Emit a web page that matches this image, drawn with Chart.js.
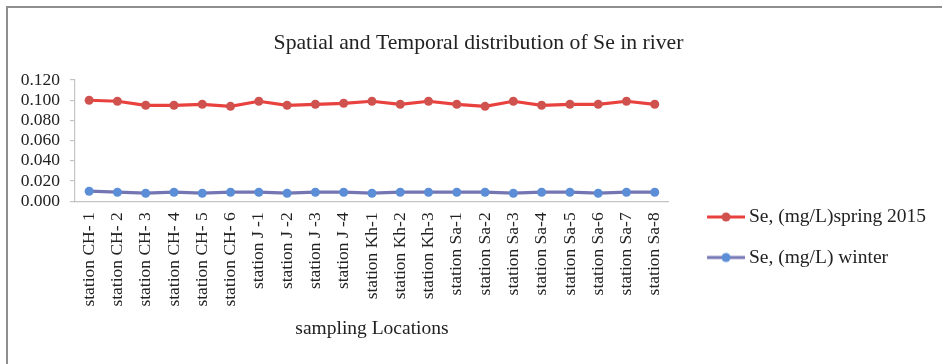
<!DOCTYPE html>
<html>
<head>
<meta charset="utf-8">
<script src="https://cdn.jsdelivr.net/npm/chart.js@4/dist/chart.umd.min.js"></script>
<style>
  html, body { margin: 0; padding: 0; background: #ffffff; }
  #wrap { position: relative; width: 942px; height: 364px; overflow: hidden; }
  #frame { position: absolute; left: 6px; top: 6px; right: -4px; bottom: -4px;
           border-top: 2px solid #8e8e8e; border-left: 2px solid #8e8e8e; pointer-events: none; }
  canvas { position: absolute; left: 0; top: 0; }
</style>
</head>
<body>
<div id="wrap">
  <canvas id="chart" width="942" height="364"></canvas>
  <div id="frame"></div>
</div>
<script>
// Sampling stations along the river
const stations = [
  'station CH- 1', 'station CH- 2', 'station CH- 3', 'station CH- 4', 'station CH- 5', 'station CH- 6',
  'station J -1', 'station J -2', 'station J -3', 'station J -4',
  'station Kh-1', 'station Kh-2', 'station Kh-3',
  'station Sa-1', 'station Sa-2', 'station Sa-3', 'station Sa-4', 'station Sa-5', 'station Sa-6', 'station Sa-7', 'station Sa-8'
];

// Se concentration, mg/L
const seSpring2015 = [0.100, 0.099, 0.095, 0.095, 0.096, 0.094, 0.099, 0.095, 0.096, 0.097,
                      0.099, 0.096, 0.099, 0.096, 0.094, 0.099, 0.095, 0.096, 0.096, 0.099, 0.096];
const seWinter = [0.010, 0.009, 0.008, 0.009, 0.008, 0.009, 0.009, 0.008, 0.009, 0.009,
                  0.008, 0.009, 0.009, 0.009, 0.009, 0.008, 0.009, 0.009, 0.008, 0.009, 0.009];

const seriesNames = ['Se, (mg/L)spring 2015', 'Se, (mg/L) winter'];
const yTicks = { min: 0, max: 0.12, step: 0.02 };

const SERIF = "'Liberation Serif', 'Times New Roman', serif";
const RED_LINE = '#e8413e', RED_MARK = '#d0524e';
const BLUE_LINE = '#7476b4', BLUE_MARK = '#5b8ed6';

// Legend symbol: a short line with a marker, drawn at the right side of a wider canvas
function legendSymbol(lineColor, markColor) {
  const c = document.createElement('canvas');
  c.width = 61; c.height = 14;
  const g = c.getContext('2d');
  g.strokeStyle = lineColor;
  g.lineWidth = 3;
  g.beginPath();
  g.moveTo(23, 7);
  g.lineTo(61, 7);
  g.stroke();
  g.fillStyle = markColor;
  g.beginPath();
  g.arc(42, 7, 4.5, 0, Math.PI * 2);
  g.fill();
  return c;
}
const legendSymbols = [legendSymbol(RED_LINE, RED_MARK), legendSymbol(BLUE_LINE, BLUE_MARK)];

new Chart(document.getElementById('chart'), {
  type: 'line',
  data: {
    labels: stations,
    datasets: [
      {
        label: seriesNames[0],
        data: seSpring2015,
        borderColor: RED_LINE,
        backgroundColor: RED_MARK,
        pointBackgroundColor: RED_MARK,
        pointBorderColor: RED_MARK,
        pointStyle: 'circle',
        pointRadius: 4.5,
        pointBorderWidth: 0,
        borderWidth: 3.2,
        tension: 0
      },
      {
        label: seriesNames[1],
        data: seWinter,
        borderColor: BLUE_LINE,
        backgroundColor: BLUE_MARK,
        pointBackgroundColor: BLUE_MARK,
        pointBorderColor: BLUE_MARK,
        pointStyle: 'circle',
        pointRadius: 4.5,
        pointBorderWidth: 0,
        borderWidth: 3.2,
        tension: 0
      }
    ]
  },
  options: {
    responsive: false,
    animation: false,
    devicePixelRatio: 1,
    layout: { padding: { left: 21, right: 6, top: 0, bottom: 0 } },
    plugins: {
      title: {
        display: true,
        text: 'Spatial and Temporal distribution of Se in river',
        color: '#222222',
        font: { family: SERIF, size: 21.7, weight: 'normal' },
        padding: { top: 30, bottom: 24 }
      },
      legend: {
        position: 'right',
        align: 'center',
        maxWidth: 272,
        title: { display: true, text: '', font: { size: 10 }, padding: { top: 98.5, bottom: 0 } },
        labels: {
          usePointStyle: true,
          pointStyleWidth: 49.25,
          padding: 21,
          color: '#222222',
          font: { family: SERIF, size: 19.5 },
          generateLabels(chart) {
            return chart.data.datasets.map((ds, i) => ({
              text: ds.label,
              pointStyle: legendSymbols[i],
              fillStyle: ds.backgroundColor,
              strokeStyle: ds.borderColor,
              lineWidth: 0,
              fontColor: '#222222',
              hidden: false,
              datasetIndex: i
            }));
          }
        }
      },
      tooltip: { enabled: false }
    },
    scales: {
      x: {
        type: 'category',
        offset: true,
        grid: { drawOnChartArea: false, drawTicks: false },
        border: { display: true, color: '#c4c4c4', width: 1.2 },
        ticks: {
          autoSkip: false,
          minRotation: 90,
          maxRotation: 90,
          padding: 11,
          color: '#222222',
          font: { family: SERIF, size: 17.5 }
        },
        title: {
          display: true,
          text: 'sampling Locations',
          color: '#222222',
          font: { family: SERIF, size: 19.5 },
          padding: { top: 0, bottom: 23 }
        }
      },
      y: {
        min: yTicks.min,
        max: yTicks.max,
        afterFit(scale) { scale.width = 54; },
        grid: { drawOnChartArea: false, drawTicks: true, tickLength: 5, color: '#c4c4c4', lineWidth: 1.2 },
        border: { display: true, color: '#c4c4c4', width: 1.2 },
        ticks: {
          stepSize: yTicks.step,
          autoSkip: false,
          padding: 10,
          color: '#222222',
          font: { family: SERIF, size: 17.5 },
          callback: v => Number(v).toFixed(3)
        }
      }
    }
  }
});
</script>
</body>
</html>
